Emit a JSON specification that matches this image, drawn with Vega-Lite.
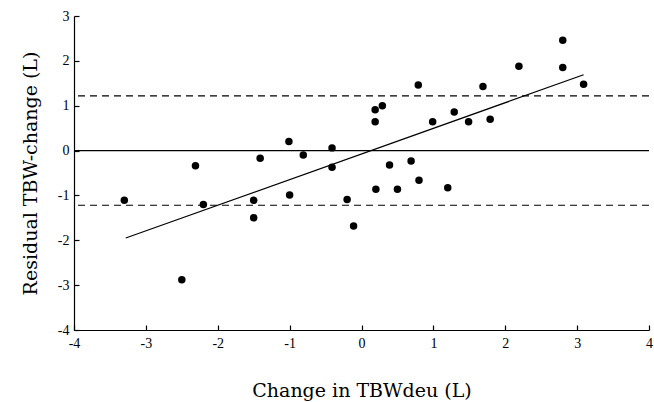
{
  "$schema": "https://vega.github.io/schema/vega-lite/v6.json",
  "autosize": "none",
  "width": 575,
  "height": 314,
  "padding": {"left": 74, "top": 16, "right": 5, "bottom": 72},
  "background": "white",
  "config": {
    "view": {"stroke": null},
    "font": "Liberation Serif",
    "axis": {
      "grid": false,
      "domainColor": "black",
      "domainWidth": 1.2,
      "tickColor": "black",
      "tickWidth": 1.2,
      "tickSize": -5,
      "labelFont": "Liberation Serif",
      "labelFontSize": 14,
      "labelColor": "black",
      "titleFont": "DejaVu Serif",
      "titleFontSize": 19,
      "titleFontWeight": "normal",
      "titleColor": "black"
    }
  },
  "layer": [
    {
      "data": {"values": [{"y": 0}]},
      "mark": {"type": "rule", "color": "black", "strokeWidth": 1.2},
      "encoding": {"y": {"field": "y", "type": "quantitative", "scale": {"domain": [-4, 3]}}}
    },
    {
      "data": {"values": [{"y": 1.22}, {"y": -1.22}]},
      "mark": {"type": "rule", "color": "black", "strokeWidth": 1.1, "strokeDash": [7, 5]},
      "encoding": {"y": {"field": "y", "type": "quantitative"}}
    },
    {
      "data": {"values": [{"x": -3.28, "y": -1.95}, {"x": 3.09, "y": 1.69}]},
      "mark": {"type": "line", "color": "black", "strokeWidth": 1.2},
      "encoding": {
        "x": {"field": "x", "type": "quantitative"},
        "y": {"field": "y", "type": "quantitative"}
      }
    },
    {
      "data": {"values": [
        {"x": 2.80, "y": 2.46}, {"x": 2.19, "y": 1.88}, {"x": 2.80, "y": 1.85}, {"x": 3.09, "y": 1.48},
        {"x": 0.79, "y": 1.46}, {"x": 1.69, "y": 1.43}, {"x": 0.19, "y": 0.91}, {"x": 0.29, "y": 1.00},
        {"x": 0.19, "y": 0.64}, {"x": 1.29, "y": 0.86}, {"x": 0.99, "y": 0.64}, {"x": 1.49, "y": 0.64},
        {"x": 1.79, "y": 0.70}, {"x": 0.39, "y": -0.32}, {"x": 0.69, "y": -0.23}, {"x": 0.80, "y": -0.66},
        {"x": 0.20, "y": -0.86}, {"x": 0.50, "y": -0.86}, {"x": 1.20, "y": -0.83},
        {"x": -1.01, "y": 0.20}, {"x": -0.41, "y": 0.06}, {"x": -0.81, "y": -0.10}, {"x": -1.41, "y": -0.17},
        {"x": -2.31, "y": -0.34}, {"x": -0.41, "y": -0.37},
        {"x": -3.30, "y": -1.11}, {"x": -2.20, "y": -1.20}, {"x": -1.50, "y": -1.11}, {"x": -1.00, "y": -0.99},
        {"x": -1.50, "y": -1.50}, {"x": -0.20, "y": -1.09}, {"x": -0.11, "y": -1.68}, {"x": -2.50, "y": -2.88}
      ]},
      "mark": {"type": "point", "filled": true, "color": "black", "size": 56, "opacity": 1},
      "encoding": {
        "x": {
          "field": "x", "type": "quantitative",
          "scale": {"domain": [-4, 4], "nice": false, "zero": false},
          "axis": {
            "title": "Change in TBWdeu (L)",
            "values": [-4, -3.5, -3, -2.5, -2, -1.5, -1, -0.5, 0, 0.5, 1, 1.5, 2, 2.5, 3, 3.5, 4],
            "labelExpr": "datum.value % 1 === 0 ? '' + datum.value : ''",
            "labelPadding": 11,
            "titlePadding": 31,
            "labelFlush": false,
            "labelOverlap": false
          }
        },
        "y": {
          "field": "y", "type": "quantitative",
          "scale": {"domain": [-4, 3], "nice": false, "zero": false},
          "axis": {
            "title": "Residual TBW-change (L)",
            "values": [-4, -3.5, -3, -2.5, -2, -1.5, -1, -0.5, 0, 0.5, 1, 1.5, 2, 2.5, 3],
            "labelExpr": "datum.value % 1 === 0 ? '' + datum.value : ''",
            "labelPadding": 10,
            "titlePadding": 17,
            "labelFlush": false,
            "labelOverlap": false
          }
        }
      }
    }
  ]
}
